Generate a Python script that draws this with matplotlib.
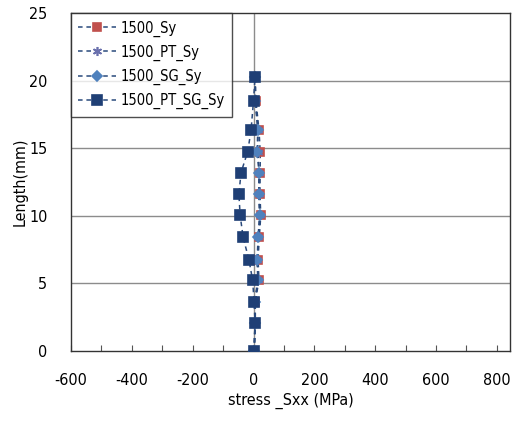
import matplotlib
matplotlib.use("Agg")
import matplotlib.pyplot as plt
from matplotlib.ticker import MultipleLocator, FixedLocator, FuncFormatter

plt.rcParams['font.family'] = ['DejaVu Sans']
plt.rcParams['font.stretch'] = 'condensed'

# Length positions along the specimen (mm)
length_mm = [0.0, 2.1, 3.65, 5.25, 6.75, 8.4, 10.05, 11.6, 13.2, 14.75, 16.35, 18.5, 20.25]

# Residual stress Sxx (MPa) for each condition
s_1500_sy = [3, 6, 6, 18, 15, 19, 24, 21, 22, 22, 18, 8, 6]
s_1500_pt_sy = [2, 5, 5, 15, 13, 16, 21, 18, 19, 14, 15, 6, 5]
s_1500_sg_sy = [2, 5, 4, 14, 12, 15, 20, 17, 18, 12, 14, 6, 5]
s_1500_pt_sg_sy = [2, 5, 2, -3, -15, -34, -44, -48, -41, -19, -8, 0, 5]

series_names = ["1500_Sy", "1500_PT_Sy", "1500_SG_Sy", "1500_PT_SG_Sy"]

x_ticks_labeled = [-600, -400, -200, 0, 200, 400, 600, 800]
y_ticks = [0, 5, 10, 15, 20, 25]

line_color = "#2a4a7c"
styles = [
    dict(marker="s", color="#c0504d", ms=6),
    dict(marker=(6, 2, 0), color="#6a70ad", ms=6.5),
    dict(marker="D", color="#4f81bd", ms=5),
    dict(marker="s", color="#1f3f75", ms=6.5),
]

fig = plt.figure(figsize=(5.13, 4.21), dpi=100)
ax = fig.add_axes([0.1384, 0.1663, 0.994 - 0.1384, 0.969 - 0.1663])

all_series = [s_1500_sy, s_1500_pt_sy, s_1500_sg_sy, s_1500_pt_sg_sy]
for name, vals, st in zip(series_names, all_series, styles):
    ax.plot(vals, length_mm, linestyle=(0, (3, 2.5)), color=line_color, lw=1.1,
            marker=st["marker"], markersize=st["ms"], markerfacecolor=st["color"],
            markeredgecolor=st["color"], markeredgewidth=1.2, label=name, zorder=3)

ax.set_xlim(-600, 843)
ax.set_ylim(0, 25)

# horizontal gridlines and the vertical axis crossing at zero
for yv in y_ticks[1:-1]:
    ax.axhline(yv, color="#8c8c8c", lw=1.0, zorder=1)
ax.axvline(0, color="#8c8c8c", lw=1.0, zorder=1)

ax.xaxis.set_major_locator(MultipleLocator(100))
ax.xaxis.set_major_formatter(FuncFormatter(
    lambda v, p: f"{int(round(v))}" if int(round(v)) in x_ticks_labeled else ""))
ax.tick_params(axis="x", direction="in", length=4, width=0.8, color="#555555",
               labelsize=11.5, pad=16)
ax.yaxis.set_major_locator(FixedLocator(y_ticks))
ax.tick_params(axis="y", length=0, labelsize=11.5, pad=17)

for s in ax.spines.values():
    s.set_color("#333333")
    s.set_linewidth(1.0)

ax.set_xlabel("stress _Sxx (MPa)", fontsize=11.5, labelpad=3)
ax.set_ylabel("Length(mm)", fontsize=11.5)
ax.yaxis.set_label_coords(-0.098, 0.5)

leg = ax.legend(loc="upper left", bbox_to_anchor=(0.0, 1.0), borderaxespad=0,
                fontsize=10.5, frameon=True, fancybox=False, handlelength=2.6,
                handletextpad=0.3, labelspacing=0.55, borderpad=0.5, numpoints=1)
leg.get_frame().set_edgecolor("#222222")
leg.get_frame().set_linewidth(1.0)
leg.set_zorder(5)

fig.savefig("out.png", dpi=100)
